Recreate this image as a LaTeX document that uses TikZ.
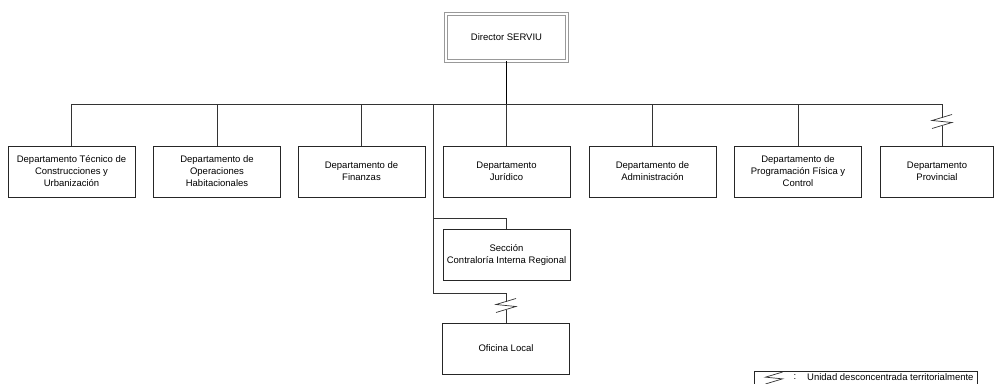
\documentclass[tikz,border=0pt]{standalone}
\usepackage{fontspec}
\setmainfont{Liberation Sans}

\begin{document}
\begin{tikzpicture}[x=1pt, y=-1pt,
        unidad/.style={draw=black!85, line width=0.7pt, rectangle,
        minimum width=127pt, minimum height=51pt, inner sep=1pt,
        align=center, font=\fontsize{9.5}{12}\selectfont},
        linea/.style={draw=black!80, line width=0.7pt},
        corte/.pic={\draw[linea] (10,-7) -- (-10,-1) -- (10,1) -- (-10,7);}]
        \useasboundingbox (0,0) rectangle (995,383);

        % jefatura
        \node[unidad, draw=gray!80, double=white, double distance=2pt,
        line width=0.8pt, minimum width=121pt, minimum height=47pt]
        (dir) at (506.5,37.5) {Director SERVIU};

        % departamentos
        \node[unidad] (dtc) at (71.5,171.5) {Departamento Técnico de\\Construcciones y\\Urbanización};
        \node[unidad] (doh) at (217,171.5) {Departamento de\\Operaciones\\Habitacionales};
        \node[unidad] (dfi) at (361.5,171.5) {Departamento de\\Finanzas};
        \node[unidad] (dju) at (506.5,171.5) {Departamento\\Jurídico};
        \node[unidad] (dad) at (652.5,171.5) {Departamento de\\Administración};
        \node[unidad] (dpf) at (798,171.5) {Departamento de\\Programación Física y\\Control};
        \node[unidad, minimum width=113pt] (dpr) at (937,171.5) {Departamento\\Provincial};

        % asesoria y oficina
        \node[unidad] (sci) at (506.5,254.5) {Sección\\Contraloría Interna Regional};
        \node[unidad] (ofl) at (506,348.5) {Oficina Local};

        % barra
        \coordinate (bi) at (71.5,104);
        \coordinate (bd) at (942,104);
        \coordinate (ra) at (433,104);
        \coordinate (rb) at (433,218);
        \coordinate (rc) at (433,293);
        \coordinate (cp) at (942,121.5);
        \coordinate (co) at (506,305.5);

        \draw[linea, draw=black, line width=1.2pt] (dir.south) -- (dir.south |- bi);
        \draw[linea] (dtc.north) |- (bd);
        \foreach \n in {doh,dfi,dju,dad,dpf}
        \draw[linea] (\n.north) -- (\n.north |- bi);

        % provincial, desconcentrado
        \draw[linea] (bd) -- ([yshift=4pt]cp);
        \pic at (cp) {corte};
        \draw[linea] ([yshift=-4pt]cp) -- (dpr.north -| cp);

        % contraloria y oficina local
        \draw[linea] (ra) -- (rc) -| ([yshift=4pt]co);
        \draw[linea] (rb) -| (sci.north);
        \pic at (co) {corte};
        \draw[linea] ([yshift=-4pt]co) -- (ofl.north);

        % leyenda
        \node[draw=black!85, line width=0.7pt, anchor=north west,
        minimum width=223pt, minimum height=24pt] (ley) at (754,371) {};
        \pic[scale=0.85] at (774,378) {corte};
        \node[font=\fontsize{9.5}{12}\selectfont] (dos) at (795,377) {:};
        \node[anchor=west, inner sep=0pt, font=\fontsize{9.5}{12}\selectfont]
        (txl) at (807,377) {Unidad desconcentrada territorialmente};
    \end{tikzpicture}
\end{document}
